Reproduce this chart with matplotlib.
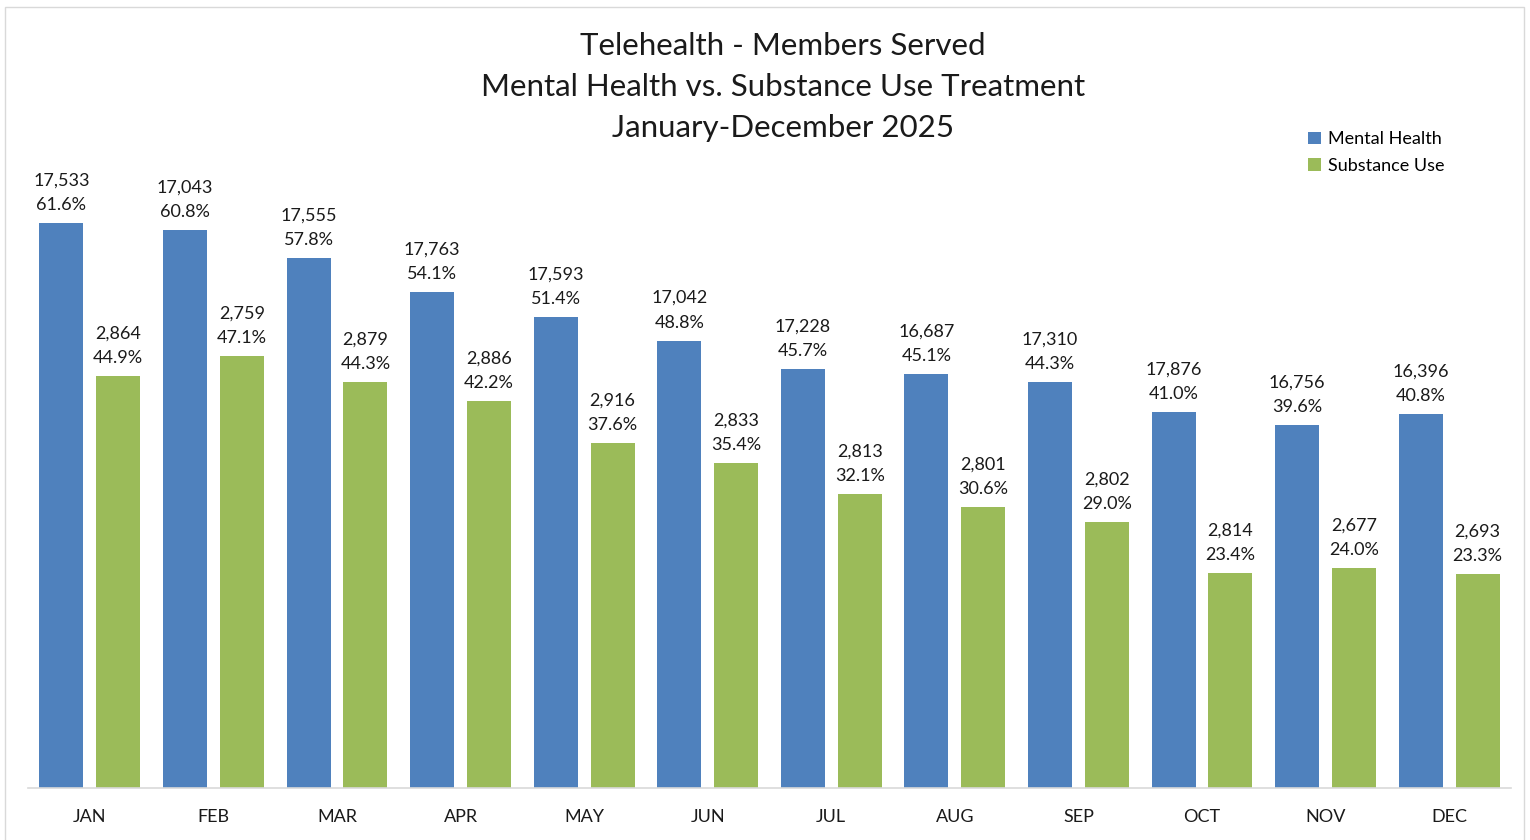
import matplotlib
matplotlib.use('Agg')
import matplotlib.pyplot as plt
from matplotlib.patches import Rectangle
import numpy as np

plt.rcParams['font.family'] = ['Lato', 'DejaVu Sans']

months = ['JAN', 'FEB', 'MAR', 'APR', 'MAY', 'JUN', 'JUL', 'AUG', 'SEP', 'OCT', 'NOV', 'DEC']
mh_count = [17533, 17043, 17555, 17763, 17593, 17042, 17228, 16687, 17310, 17876, 16756, 16396]
mh_pct = [61.6, 60.8, 57.8, 54.1, 51.4, 48.8, 45.7, 45.1, 44.3, 41.0, 39.6, 40.8]
su_count = [2864, 2759, 2879, 2886, 2916, 2833, 2813, 2801, 2802, 2814, 2677, 2693]
su_pct = [44.9, 47.1, 44.3, 42.2, 37.6, 35.4, 32.1, 30.6, 29.0, 23.4, 24.0, 23.3]

blue = '#4F81BD'
green = '#9BBB59'

W, H = 1530, 840
fig = plt.figure(figsize=(W / 100, H / 100), dpi=100)

# chart border
fig.patches.append(Rectangle((5 / W, -0.01), 1519 / W, (H - 7) / H + 0.01,
                             transform=fig.transFigure, fill=False,
                             edgecolor='#D9D9D9', linewidth=1))

# axes: x 28..1511 px, baseline at 788 px, 9.17 px per percent
ymax = 70
top_px = 788 - ymax * 9.17
ax = fig.add_axes([28 / W, (H - 788) / H, (1511 - 28) / W, (788 - top_px) / H])

x = np.arange(len(months))
off = 0.23
bw = 0.356
ax.bar(x - off, mh_pct, bw, color=blue, label='Mental Health')
ax.bar(x + off, su_pct, bw, color=green, label='Substance Use')

for i in range(len(months)):
    ax.annotate(f'{mh_count[i]:,}\n{mh_pct[i]:.1f}%', (x[i] - off, mh_pct[i]),
                xytext=(0, 10), textcoords='offset pixels', ha='center', va='bottom',
                fontsize=13, linespacing=1.65, color='#1a1a1a')
    ax.annotate(f'{su_count[i]:,}\n{su_pct[i]:.1f}%', (x[i] + off, su_pct[i]),
                xytext=(0, 10), textcoords='offset pixels', ha='center', va='bottom',
                fontsize=13, linespacing=1.65, color='#1a1a1a')

ax.set_xlim(-0.5, 11.5)
ax.set_ylim(0, ymax)
ax.set_xticks(x)
ax.set_xticklabels(months, fontsize=13, color='#1a1a1a')
ax.tick_params(axis='x', length=0, pad=15)
ax.set_yticks([])
for s in ['top', 'right', 'left']:
    ax.spines[s].set_visible(False)
ax.spines['bottom'].set_color('#D9D9D9')
ax.spines['bottom'].set_linewidth(1.2)

fig.text(783 / W, 1 - 87 / H, 'Telehealth - Members Served\nMental Health vs. Substance Use Treatment\nJanuary-December 2025',
         ha='center', va='center', fontsize=22.5, linespacing=1.55, color='#1a1a1a')

leg = fig.legend(loc='upper left', bbox_to_anchor=(1301 / W, 1 - 124 / H), frameon=False,
                 fontsize=13, handlelength=0.7, handleheight=0.7, handletextpad=0.4,
                 labelspacing=0.6, borderaxespad=0)

fig.savefig('out.png', dpi=100)
